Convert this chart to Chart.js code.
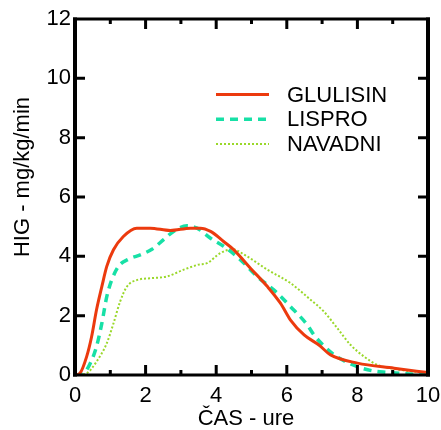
<!DOCTYPE html>
<html>
<head>
<meta charset="utf-8">
<script src="https://cdn.jsdelivr.net/npm/chart.js@4/dist/chart.umd.min.js"></script>
<style>
html,body{margin:0;padding:0;background:#fff;}
canvas{display:block;}
</style>
</head>
<body>
<canvas id="c" width="441" height="430"></canvas>
<script>
const seriesNames = ['GLULISIN', 'LISPRO', 'NAVADNI'];
const xTitle = 'ČAS - ure';
const yTitle = 'HIG - mg/kg/min';

const glulisinX = [0, 0.14, 0.33, 0.47, 0.61, 0.76, 0.9, 1.09, 1.37, 1.75, 2.13, 2.7, 3.27, 3.55, 3.84, 4.21, 4.5, 4.97, 5.45, 5.82, 6.1, 6.49, 6.91, 7.24, 8.0, 9.04, 10.0];
const glulisinY = [0, 0.06, 0.62, 1.29, 2.2, 2.98, 3.66, 4.22, 4.67, 4.95, 4.95, 4.87, 4.95, 4.95, 4.84, 4.5, 4.22, 3.6, 2.98, 2.42, 1.86, 1.35, 1.01, 0.68, 0.4, 0.23, 0.08];

const lisproX = [0, 0.24, 0.43, 0.61, 0.76, 0.9, 1.04, 1.23, 1.51, 1.85, 2.18, 2.51, 2.79, 3.17, 3.46, 3.84, 4.21, 4.69, 5.16, 5.63, 6.1, 6.58, 6.77, 7.05, 7.34, 7.67, 8.05, 8.43, 8.85, 9.61, 10.0];
const lisproY = [0, 0.06, 0.39, 0.96, 1.74, 2.64, 3.2, 3.66, 3.9, 4.05, 4.24, 4.56, 4.84, 5.03, 4.95, 4.61, 4.34, 3.88, 3.32, 2.87, 2.31, 1.69, 1.35, 0.98, 0.68, 0.45, 0.26, 0.14, 0.09, 0.02, 0];

const navadniX = [0, 0.33, 0.61, 0.9, 1.09, 1.28, 1.47, 1.75, 2.13, 2.6, 3.08, 3.5, 3.74, 4.12, 4.45, 4.87, 5.45, 6.1, 6.68, 7.05, 7.43, 7.81, 8.19, 8.57, 9.14, 10.0];
const navadniY = [0, 0.06, 0.45, 1.07, 1.74, 2.48, 2.98, 3.2, 3.26, 3.32, 3.55, 3.72, 3.77, 4.11, 4.24, 4.0, 3.55, 3.1, 2.53, 2.14, 1.58, 1.01, 0.62, 0.34, 0.19, 0.06];

const xTickValues = [0, 2, 4, 6, 8, 10];
const yTickValues = [0, 2, 4, 6, 8, 10, 12];

const FONT = '"Liberation Sans", Arial, sans-serif';
const pts = (xs, ys) => xs.map((x, i) => ({x: x, y: ys[i]}));

const styles = [
  {color: '#ec3a0e', width: 3, dash: []},
  {color: '#17e0a6', width: 3.5, dash: [8, 6]},
  {color: '#9ad82a', width: 2, dash: [2, 2]}
];

const frameAndTicks = {
  id: 'frameAndTicks',
  afterDraw(chart) {
    const ctx = chart.ctx;
    const a = chart.chartArea;
    const xs = chart.scales.x, ys = chart.scales.y;
    ctx.save();
    ctx.strokeStyle = '#000';
    ctx.lineCap = 'butt';
    ctx.lineWidth = 3;
    for (let v = 1; v < 10; v++) {
      const px = xs.getPixelForValue(v);
      const len = (v % 2 === 0) ? 10 : 5;
      ctx.beginPath();
      ctx.moveTo(px, a.bottom); ctx.lineTo(px, a.bottom - len);
      ctx.moveTo(px, a.top); ctx.lineTo(px, a.top + len);
      ctx.stroke();
    }
    yTickValues.forEach(v => {
      if (v === 0 || v === 12) return;
      const py = ys.getPixelForValue(v);
      ctx.beginPath();
      ctx.moveTo(a.left, py); ctx.lineTo(a.left + 10, py);
      ctx.moveTo(a.right, py); ctx.lineTo(a.right - 10, py);
      ctx.stroke();
    });
    ctx.lineWidth = 3;
    ctx.beginPath();
    ctx.moveTo(a.left - 2, a.top); ctx.lineTo(a.right + 2, a.top);
    ctx.moveTo(a.left - 2, a.bottom); ctx.lineTo(a.right + 2, a.bottom);
    ctx.stroke();
    ctx.lineWidth = 4;
    ctx.beginPath();
    ctx.moveTo(a.left, a.top - 1.5); ctx.lineTo(a.left, a.bottom + 1.5);
    ctx.moveTo(a.right, a.top - 1.5); ctx.lineTo(a.right, a.bottom + 1.5);
    ctx.stroke();

    ctx.fillStyle = '#000';
    ctx.font = '22px ' + FONT;
    ctx.textAlign = 'center';
    ctx.textBaseline = 'middle';
    ctx.fillText(xTitle, 246, 419);
    ctx.save();
    ctx.translate(23, 177);
    ctx.rotate(-Math.PI / 2);
    ctx.fillText(yTitle, 0, 0);
    ctx.restore();

    const rows = [94.5, 119.3, 144];
    chart.data.datasets.forEach((ds, i) => {
      const y = rows[i];
      ctx.strokeStyle = ds.borderColor;
      ctx.lineWidth = ds.borderWidth;
      ctx.setLineDash(ds.borderDash || []);
      ctx.beginPath();
      ctx.moveTo(216, y); ctx.lineTo(269, y);
      ctx.stroke();
      ctx.setLineDash([]);
      ctx.fillStyle = '#000';
      ctx.textAlign = 'left';
      ctx.fillText(ds.label, 287, y + 1);
    });
    ctx.restore();
  }
};

const seriesData = [pts(glulisinX, glulisinY), pts(lisproX, lisproY), pts(navadniX, navadniY)];

new Chart(document.getElementById('c'), {
  type: 'line',
  data: {
    datasets: seriesNames.map((name, i) => ({
      label: name,
      data: seriesData[i],
      borderColor: styles[i].color,
      borderWidth: styles[i].width,
      borderDash: styles[i].dash,
      pointRadius: 0,
      fill: false,
      cubicInterpolationMode: 'monotone'
    }))
  },
  options: {
    responsive: false,
    devicePixelRatio: 1,
    animation: false,
    layout: {padding: {top: 19, right: 0, left: 0, bottom: 0}},
    plugins: {legend: {display: false}, tooltip: {enabled: false}},
    scales: {
      x: {
        type: 'linear', min: 0, max: 10,
        afterFit(s) { s.height = 55; s.paddingRight = 13; s.paddingLeft = 0; },
        afterBuildTicks(s) { s.ticks = xTickValues.map(v => ({value: v})); },
        ticks: {color: '#000', font: {family: FONT, size: 22}, padding: 8, maxRotation: 0, autoSkip: false},
        grid: {display: false, drawTicks: false},
        border: {display: false}
      },
      y: {
        type: 'linear', min: 0, max: 12,
        afterFit(s) { s.width = 75; s.paddingTop = 0; s.paddingBottom = 0; },
        afterBuildTicks(s) { s.ticks = yTickValues.map(v => ({value: v})); },
        ticks: {color: '#000', font: {family: FONT, size: 22}, padding: 4, autoSkip: false},
        grid: {display: false, drawTicks: false},
        border: {display: false}
      }
    }
  },
  plugins: [frameAndTicks]
});
</script>
</body>
</html>
